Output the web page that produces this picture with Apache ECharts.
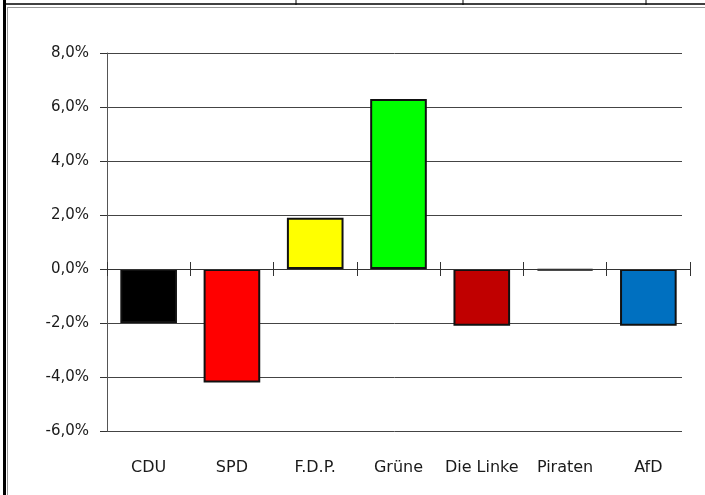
<!DOCTYPE html>
<html>
<head>
<meta charset="utf-8">
<script src="https://cdn.jsdelivr.net/npm/echarts@6/dist/echarts.min.js"></script>
<style>
html,body{margin:0;padding:0;background:#fff;}
#chart{width:705px;height:495px;}
</style>
</head>
<body>
<div id="chart"></div>
<script>
const categories = ['CDU', 'SPD', 'F.D.P.', 'Grüne', 'Die Linke', 'Piraten', 'AfD'];
const values = [-2.0, -4.2, 1.9, 6.3, -2.1, -0.05, -2.1];
const barColors = ['#000000', '#ff0000', '#ffff00', '#00ff00', '#c00000', '#000000', '#0070c0'];
const yTicks = { min: -6, max: 8, interval: 2 };

const FONT = '"DejaVu Sans", sans-serif';
const TXT = '#1a1a1a';
const chart = echarts.init(document.getElementById('chart'), null, { renderer: 'canvas' });

const fmt = v => v.toFixed(1).replace('.', ',') + '%';
const G = { left: 107, right: 15, top: 53, bottom: 64, containLabel: false };

chart.setOption({
  animation: false,
  backgroundColor: '#ffffff',
  grid: [
    G,
    { left: 107, right: 23, top: 53, bottom: 64, containLabel: false },
    G
  ],
  xAxis: [
    {
      type: 'category', data: categories, position: 'bottom', gridIndex: 0,
      axisLine: { onZero: true, lineStyle: { color: '#333', width: 1 } },
      axisTick: { show: true, length: 7, lineStyle: { color: '#333' } },
      axisLabel: { show: false }, splitLine: { show: false }, z: 5
    },
    {
      type: 'category', data: categories, position: 'bottom', gridIndex: 0,
      axisLine: { show: false, onZero: false },
      axisTick: { show: false },
      axisLabel: { show: true, margin: 29, color: TXT, fontFamily: FONT, fontSize: 16, interval: 0 },
      splitLine: { show: false }
    },
    {
      type: 'category', data: categories, gridIndex: 1, show: false
    },
    {
      type: 'category', data: categories, position: 'bottom', gridIndex: 2,
      axisLine: { onZero: true, lineStyle: { color: '#333', width: 1 } },
      axisTick: { show: true, inside: true, length: 7, lineStyle: { color: '#333' } },
      axisLabel: { show: false }, splitLine: { show: false }, z: 5
    }
  ],
  yAxis: [
    {
      type: 'value', gridIndex: 0, min: yTicks.min, max: yTicks.max, interval: yTicks.interval,
      axisLine: { show: true, lineStyle: { color: '#555', width: 1 } },
      axisTick: { show: true, length: 7, lineStyle: { color: '#333' } },
      axisLabel: { formatter: fmt, margin: 18, color: TXT, fontFamily: FONT, fontSize: 15 },
      splitLine: { show: false }, z: 4
    },
    {
      type: 'value', gridIndex: 1, min: yTicks.min, max: yTicks.max, interval: yTicks.interval,
      axisLine: { show: false }, axisTick: { show: false }, axisLabel: { show: false },
      splitLine: { show: true, lineStyle: { color: '#444', width: 1 } }
    },
    {
      type: 'value', gridIndex: 2, min: yTicks.min, max: yTicks.max, interval: yTicks.interval,
      show: false, splitLine: { show: false }
    }
  ],
  series: [{
    type: 'bar', xAxisIndex: 0, yAxisIndex: 0,
    data: values.map((v, i) => ({ value: v, itemStyle: { color: barColors[i] } })),
    barWidth: '68%',
    itemStyle: { borderColor: '#111', borderWidth: 2 }
  }],
  graphic: [
    { type: 'rect', shape: { x: 3, y: 0, width: 3, height: 495 }, style: { fill: '#000' }, silent: true },
    { type: 'line', shape: { x1: 7.5, y1: 7, x2: 7.5, y2: 495 }, style: { stroke: '#999', lineWidth: 1 }, silent: true },
    { type: 'line', shape: { x1: 6, y1: 4, x2: 705, y2: 4 }, style: { stroke: '#000', lineWidth: 1.5 }, silent: true },
    { type: 'line', shape: { x1: 7, y1: 7.5, x2: 705, y2: 7.5 }, style: { stroke: '#999', lineWidth: 1 }, silent: true },
    { type: 'line', shape: { x1: 296, y1: 0, x2: 296, y2: 5 }, style: { stroke: '#000', lineWidth: 1 }, silent: true },
    { type: 'line', shape: { x1: 463, y1: 0, x2: 463, y2: 5 }, style: { stroke: '#000', lineWidth: 1 }, silent: true },
    { type: 'line', shape: { x1: 646, y1: 0, x2: 646, y2: 5 }, style: { stroke: '#000', lineWidth: 1 }, silent: true }
  ]
});
</script>
</body>
</html>
